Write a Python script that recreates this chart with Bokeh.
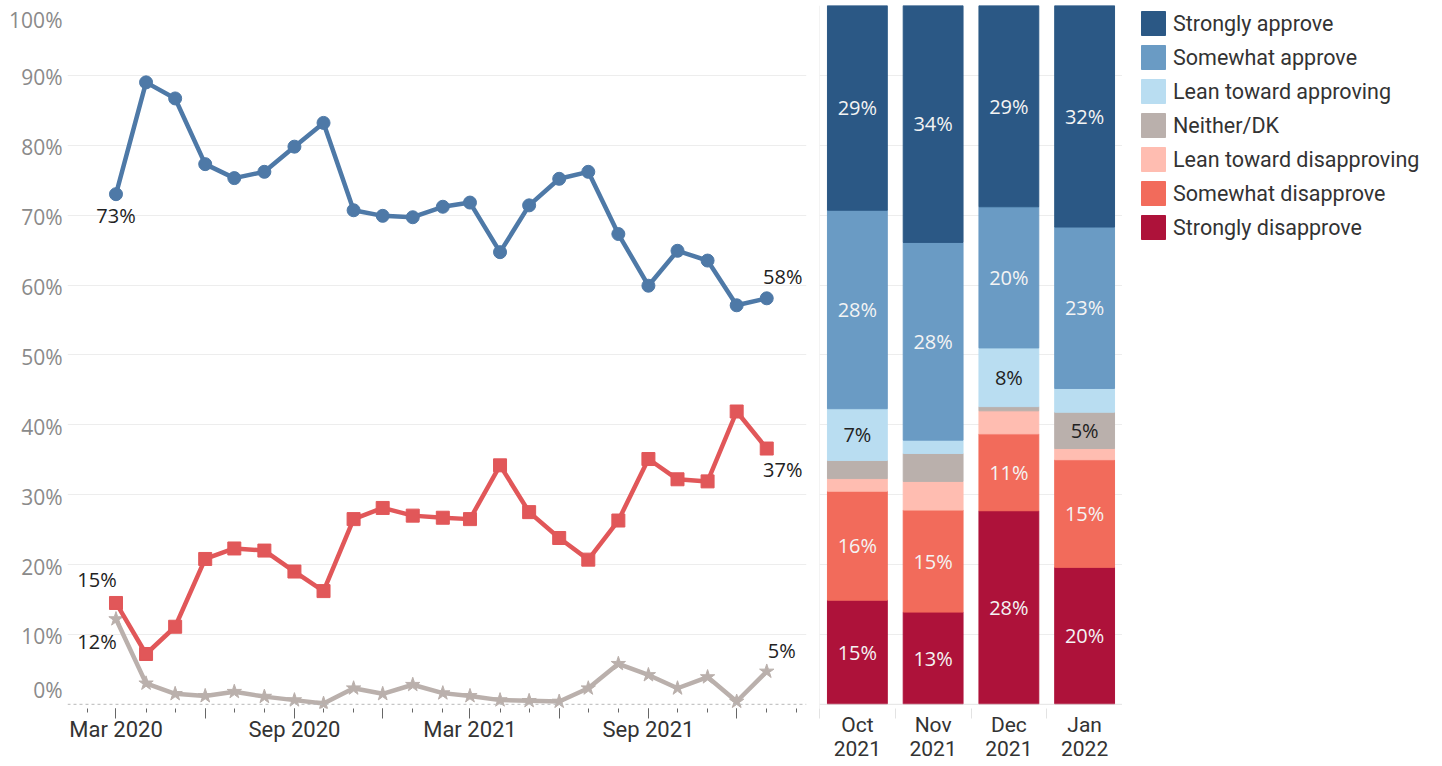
from datetime import datetime

import pandas as pd
from bokeh.core.properties import value
from bokeh.embed import file_html
from bokeh.layouts import row
from bokeh.models import (ColumnDataSource, FixedTicker, Legend, LegendItem,
                          LinearAxis, Range1d, Span)
from bokeh.plotting import figure
from bokeh.resources import INLINE

# ---------------- data ----------------
months = ["2020-03", "2020-04", "2020-05", "2020-06", "2020-07", "2020-08",
          "2020-09", "2020-10", "2020-11", "2020-12", "2021-01", "2021-02",
          "2021-03", "2021-04", "2021-05", "2021-06", "2021-07", "2021-08",
          "2021-09", "2021-10", "2021-11", "2021-12", "2022-01"]
approve = [73.0, 89.0, 86.7, 77.3, 75.3, 76.2, 79.8, 83.2, 70.7, 69.9, 69.7, 71.2,
           71.8, 64.7, 71.4, 75.2, 76.2, 67.3, 59.9, 64.9, 63.5, 57.1, 58.1]
disapprove = [14.5, 7.2, 11.1, 20.8, 22.3, 22.0, 19.0, 16.2, 26.5, 28.1, 27.0, 26.7,
              26.5, 34.2, 27.5, 23.8, 20.7, 26.3, 35.1, 32.2, 31.9, 41.9, 36.6]
neither = [12.2, 3.0, 1.5, 1.2, 1.8, 1.1, 0.6, 0.1, 2.3, 1.5, 2.8, 1.6,
           1.2, 0.6, 0.5, 0.4, 2.3, 5.8, 4.2, 2.3, 3.9, 0.4, 4.7]

bar_months = ["Oct", "Nov", "Dec", "Jan"]
bar_years = ["2021", "2021", "2021", "2022"]
responses = ["Strongly disapprove", "Somewhat disapprove", "Lean toward disapproving",
             "Neither/DK", "Lean toward approving", "Somewhat approve", "Strongly approve"]
strongly_disapprove = [14.9, 13.2, 27.7, 19.6]
somewhat_disapprove = [15.6, 14.6, 11.0, 15.4]
lean_disapproving = [1.8, 4.1, 3.3, 1.6]
neither_dk = [2.6, 4.0, 0.6, 5.2]
lean_approving = [7.4, 1.9, 8.4, 3.4]
somewhat_approve = [28.4, 28.3, 20.2, 23.1]
strongly_approve = [29.3, 33.9, 28.8, 31.7]

y_tick_values = [0, 10, 20, 30, 40, 50, 60, 70, 80, 90, 100]
x_label_months = {"2020-03": "Mar 2020", "2020-06": "", "2020-09": "Sep 2020",
                  "2020-12": "", "2021-03": "Mar 2021", "2021-06": "",
                  "2021-09": "Sep 2021", "2021-12": ""}
minor_months = pd.date_range("2020-02-01", "2022-02-01", freq="MS")

# ---------------- styles ----------------
BLUE, RED, GRAY = "#4e79a7", "#e15759", "#bab0ac"
bar_colors = ["#ae123a", "#f26b5b", "#ffbdb1", "#bab0ac", "#b9ddf1", "#6a9bc4", "#2b5885"]
dark_text = {"Lean toward approving", "Neither/DK"}
GRID = "#ededed"
PX = 6.98  # pixels per percentage point (approx.)
H = 765
TOP = 5
BOTTOM = 57
Y0 = -0.6


def ms(ts):
    return float(pd.Timestamp(ts).value // 10**6)


# ---------------- line chart ----------------
dates = [pd.Timestamp(m + "-01").to_pydatetime() for m in months]
src = ColumnDataSource(dict(x=dates, approve=approve, disapprove=disapprove, neither=neither))

p1 = figure(width=812, height=H, output_backend="svg", toolbar_location=None,
            x_range=Range1d(datetime(2020, 1, 11), datetime(2022, 2, 11)),
            y_range=Range1d(Y0, 100),
            min_border_left=67, min_border_right=6, min_border_top=TOP, min_border_bottom=BOTTOM,
            outline_line_color=None, background_fill_color="white", border_fill_color="white")

p1.xgrid.visible = False
p1.ygrid.ticker = FixedTicker(ticks=[v for v in y_tick_values if v > 0])
p1.ygrid.grid_line_color = GRID

p1.add_layout(Span(location=0, dimension="width", line_color="#b8b8b8",
                   line_dash="3 3", line_width=1))


def ylab_pos(v):
    if v == 100:
        return v - 14.5 / PX
    if v == 0:
        return v + 14.5 / PX
    return v - 2 / PX


ypos = [ylab_pos(v) for v in y_tick_values]
p1.yaxis.ticker = FixedTicker(ticks=ypos)
p1.yaxis.major_label_overrides = {pos: f"{v}%" for pos, v in zip(ypos, y_tick_values)}
p1.yaxis.axis_line_color = None
p1.yaxis.major_tick_line_color = None
p1.yaxis.major_tick_out = 0
p1.yaxis.major_tick_in = 0
p1.yaxis.minor_tick_line_color = None
p1.yaxis.major_label_standoff = 5
p1.yaxis.major_label_text_font = "Open Sans"
p1.yaxis.major_label_text_font_size = "21px"
p1.yaxis.major_label_text_color = "#8a8a8a"

major_ms = [ms(m + "-01") for m in x_label_months]
p1.xaxis.ticker = FixedTicker(ticks=major_ms, minor_ticks=[ms(d) for d in minor_months])
p1.xaxis.major_label_overrides = {ms(m + "-01"): lab for m, lab in x_label_months.items()}
p1.xaxis.axis_line_color = None
p1.xaxis.major_tick_out = 10
p1.xaxis.major_tick_in = 0
p1.xaxis.minor_tick_out = 4
p1.xaxis.minor_tick_in = 0
p1.xaxis.major_tick_line_color = "#666666"
p1.xaxis.minor_tick_line_color = "#666666"
p1.xaxis.major_label_standoff = -2
p1.xaxis.major_label_text_font = "Roboto"
p1.xaxis.major_label_text_font_size = "22px"
p1.xaxis.major_label_text_color = "#333333"

for col, color, marker, size in [("neither", GRAY, "star", 15),
                                  ("disapprove", RED, "square", 13),
                                  ("approve", BLUE, "circle", 13)]:
    p1.line("x", col, source=src, line_width=4.5, color=color)
    p1.scatter("x", col, source=src, marker=marker, size=size, color=color)


def pct(v):
    return f"{int(v + 0.5)}%"


lab_src = ColumnDataSource(dict(
    x=[dates[0], dates[-1], dates[0], dates[-1], dates[0], dates[-1]],
    y=[approve[0], approve[-1], disapprove[0], disapprove[-1], neither[0], neither[-1]],
    text=[pct(approve[0]), pct(approve[-1]), pct(disapprove[0]), pct(disapprove[-1]),
          pct(neither[0]), pct(neither[-1])],
    xo=[0, 16, -19, 16, -19, 15],
    yo=[21, -22, -23, 21, 22, -21],
))
p1.text("x", "y", text="text", x_offset="xo", y_offset="yo", source=lab_src,
        text_align="center", text_baseline="middle", text_font=value("Open Sans"),
        text_font_size="20px", text_color="#222222")

# ---------------- stacked bars ----------------
series = [strongly_disapprove, somewhat_disapprove, lean_disapproving, neither_dk,
          lean_approving, somewhat_approve, strongly_approve]
bar_x = [i + 0.5 for i in range(len(bar_months))]
data2 = dict(x=bar_x)
for name, vals in zip(responses, series):
    data2[name] = vals
src2 = ColumnDataSource(data2)

p2 = figure(width=310, height=H, output_backend="svg", toolbar_location=None,
            x_range=Range1d(0, len(bar_months)), y_range=Range1d(Y0, 100),
            min_border_left=7, min_border_right=0, min_border_top=TOP, min_border_bottom=BOTTOM,
            y_axis_location=None, outline_line_color=None,
            background_fill_color="white", border_fill_color="white")
p2.xgrid.visible = False
p2.ygrid.ticker = FixedTicker(ticks=[v for v in y_tick_values if v > 0])
p2.ygrid.grid_line_color = GRID
for loc in (0, len(bar_months)):
    p2.add_layout(Span(location=loc, dimension="height", line_color="#e8e8e8", line_width=1))
p2.add_layout(Span(location=0, dimension="width", line_color="#e3e3e3", line_width=1))

p2.vbar_stack(responses, x="x", width=0.79, color=bar_colors, source=src2)

lx, ly, lt, lc = [], [], [], []
for j, x in enumerate(bar_x):
    bottom = 0.0
    for name, vals in zip(responses, series):
        v = vals[j]
        if int(v + 0.5) >= 5:
            lx.append(x)
            ly.append(bottom + v / 2)
            lt.append(pct(v))
            lc.append("#222222" if name in dark_text else "#f4f4f4")
        bottom += v
p2.text(x=lx, y=ly, text=lt, text_color=lc, text_align="center", text_baseline="middle",
        text_font=value("Open Sans"), text_font_size="20px")

p2.xaxis.ticker = FixedTicker(ticks=bar_x, minor_ticks=list(range(len(bar_months) + 1)))
p2.xaxis.major_label_overrides = {x: m for x, m in zip(bar_x, bar_months)}
p2.xaxis.axis_line_color = None
p2.xaxis.major_tick_line_color = None
p2.xaxis.major_tick_out = 0
p2.xaxis.minor_tick_in = 0
p2.xaxis.minor_tick_out = 10
p2.xaxis.minor_tick_line_color = "#e3e3e3"
p2.xaxis.major_label_standoff = -6
p2.xaxis.major_label_text_font = "Roboto"
p2.xaxis.major_label_text_font_size = "21px"
p2.xaxis.major_label_text_color = "#333333"

year_axis = LinearAxis(ticker=FixedTicker(ticks=bar_x),
                       major_label_overrides={x: y for x, y in zip(bar_x, bar_years)},
                       axis_line_color=None, major_tick_line_color=None,
                       minor_tick_line_color=None, major_tick_out=0, major_tick_in=0,
                       major_label_standoff=1,
                       major_label_text_font="Roboto", major_label_text_font_size="21px",
                       major_label_text_color="#333333")
p2.add_layout(year_axis, "below")

# ---------------- legend ----------------
p3 = figure(width=318, height=H, output_backend="svg", toolbar_location=None,
            x_range=Range1d(0, 1), y_range=Range1d(0, 1),
            min_border_left=13, min_border_right=0, min_border_top=TOP, min_border_bottom=BOTTOM,
            x_axis_location=None, y_axis_location=None, outline_line_color=None,
            background_fill_color="white", border_fill_color="white")
p3.grid.visible = False
items = []
for name, color in reversed(list(zip(responses, bar_colors))):
    r = p3.vbar(x=[10], top=[1], width=0.1, color=color)
    items.append(LegendItem(label=name, renderers=[r]))
legend = Legend(items=items, location="top_left", margin=3, padding=0, spacing=4,
                glyph_width=30, glyph_height=30, label_height=30, label_standoff=5,
                label_text_font="Roboto", label_text_font_size="21.5px",
                label_text_color="#333333", border_line_color=None,
                background_fill_alpha=0)
p3.add_layout(legend)

layout = row(p1, p2, p3)
open("out.html", "w").write(file_html(layout, INLINE))
